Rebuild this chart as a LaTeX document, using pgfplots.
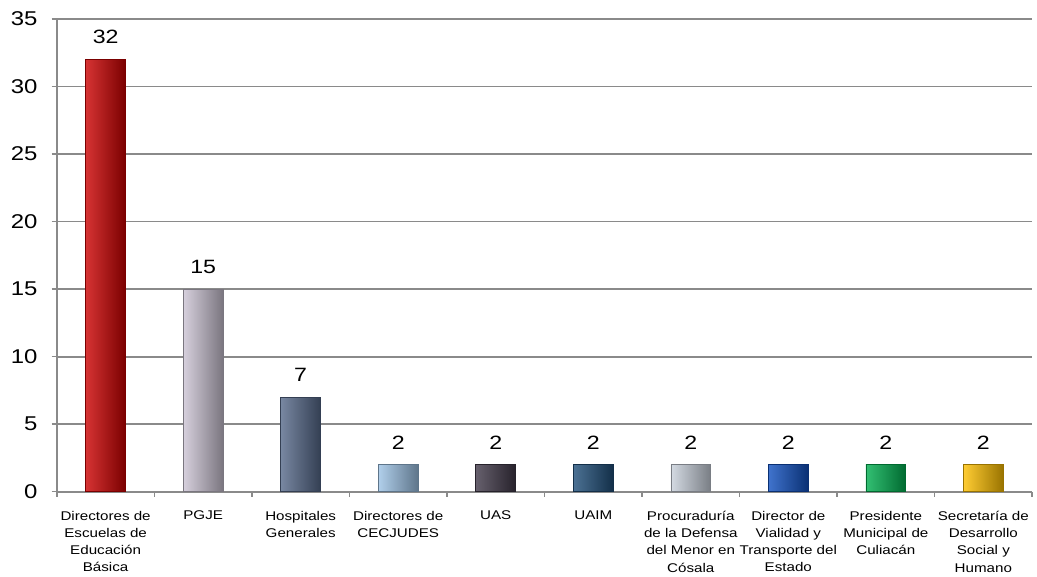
\documentclass[border=0pt]{standalone}
\usepackage{pgfplots}
\pgfplotsset{compat=1.18}
\usepackage{fontspec}
\setmainfont[FakeStretch=1.2]{Liberation Sans}
\hyphenpenalty=10000
\exhyphenpenalty=10000
\definecolor{gridgray}{HTML}{8A8A8A}
\definecolor{c1}{HTML}{CC0000}
\definecolor{c2}{HTML}{CCC4D4}
\definecolor{c3}{HTML}{56698A}
\definecolor{c4}{HTML}{9DC3E6}
\definecolor{c5}{HTML}{403848}
\definecolor{c6}{HTML}{1F4E79}
\definecolor{c7}{HTML}{C9D1DC}
\definecolor{c8}{HTML}{1050C0}
\definecolor{c9}{HTML}{00B050}
\definecolor{c10}{HTML}{FFC000}
\pgfplotsset{
  mybar/.style={ybar, bar width=30pt, bar shift=0pt, draw=#1!60!black, line width=0.5pt,
    left color=#1!80!white, middle color=#1, right color=#1!60!black,
    nodes near coords, nodes near coords style={font=\fontsize{14.5pt}{16pt}\selectfont, text=black, yshift=8pt}},
}
\begin{document}
\begin{tikzpicture}
\begin{axis}[
  scale only axis, width=733.5pt, height=355.5pt,
  xmin=-0.5, xmax=9.5, ymin=0, ymax=35,
  ytick={0,5,...,35},
  ymajorgrids, grid style={draw=gridgray, line width=1.4pt},
  axis x line*=bottom, axis y line*=left,
  axis line style={draw=gridgray, line width=1.4pt},
  tick align=outside,
  tick style={draw=gridgray, line width=1pt},
  major tick length=4pt, minor tick length=4pt,
  /pgf/number format/assume math mode=true,
  yticklabel style={font=\fontsize{15pt}{17pt}\selectfont, xshift=-7pt},
  xtick={0,...,9},
  xticklabels={{Directores de\\Escuelas de\\Educación\\Básica},{PGJE},{Hospitales\\Generales},{Directores de\\CECJUDES},{UAS},{UAIM},{Procuraduría\\de la Defensa\\del Menor en\\Cósala},{Director de\\Vialidad y\\Transporte del\\Estado},{Presidente\\Municipal de\\Culiacán},{Secretaría de\\Desarrollo\\Social y\\Humano}},
  every major x tick/.append style={draw=none},
  minor xtick={-0.5,0.5,...,9.5},
  xticklabel style={font=\fontsize{9.5pt}{13pt}\selectfont, text width=74pt, align=center, anchor=north, yshift=-7pt},
  clip=false,
]
\addplot[mybar=c1] coordinates {(0,32)};
\addplot[mybar=c2] coordinates {(1,15)};
\addplot[mybar=c3] coordinates {(2,7)};
\addplot[mybar=c4] coordinates {(3,2)};
\addplot[mybar=c5] coordinates {(4,2)};
\addplot[mybar=c6] coordinates {(5,2)};
\addplot[mybar=c7] coordinates {(6,2)};
\addplot[mybar=c8] coordinates {(7,2)};
\addplot[mybar=c9] coordinates {(8,2)};
\addplot[mybar=c10] coordinates {(9,2)};
\path (rel axis cs:-0.0583,-0.1751) rectangle (rel axis cs:1.00204,1.0401);
\end{axis}
\end{tikzpicture}
\end{document}
